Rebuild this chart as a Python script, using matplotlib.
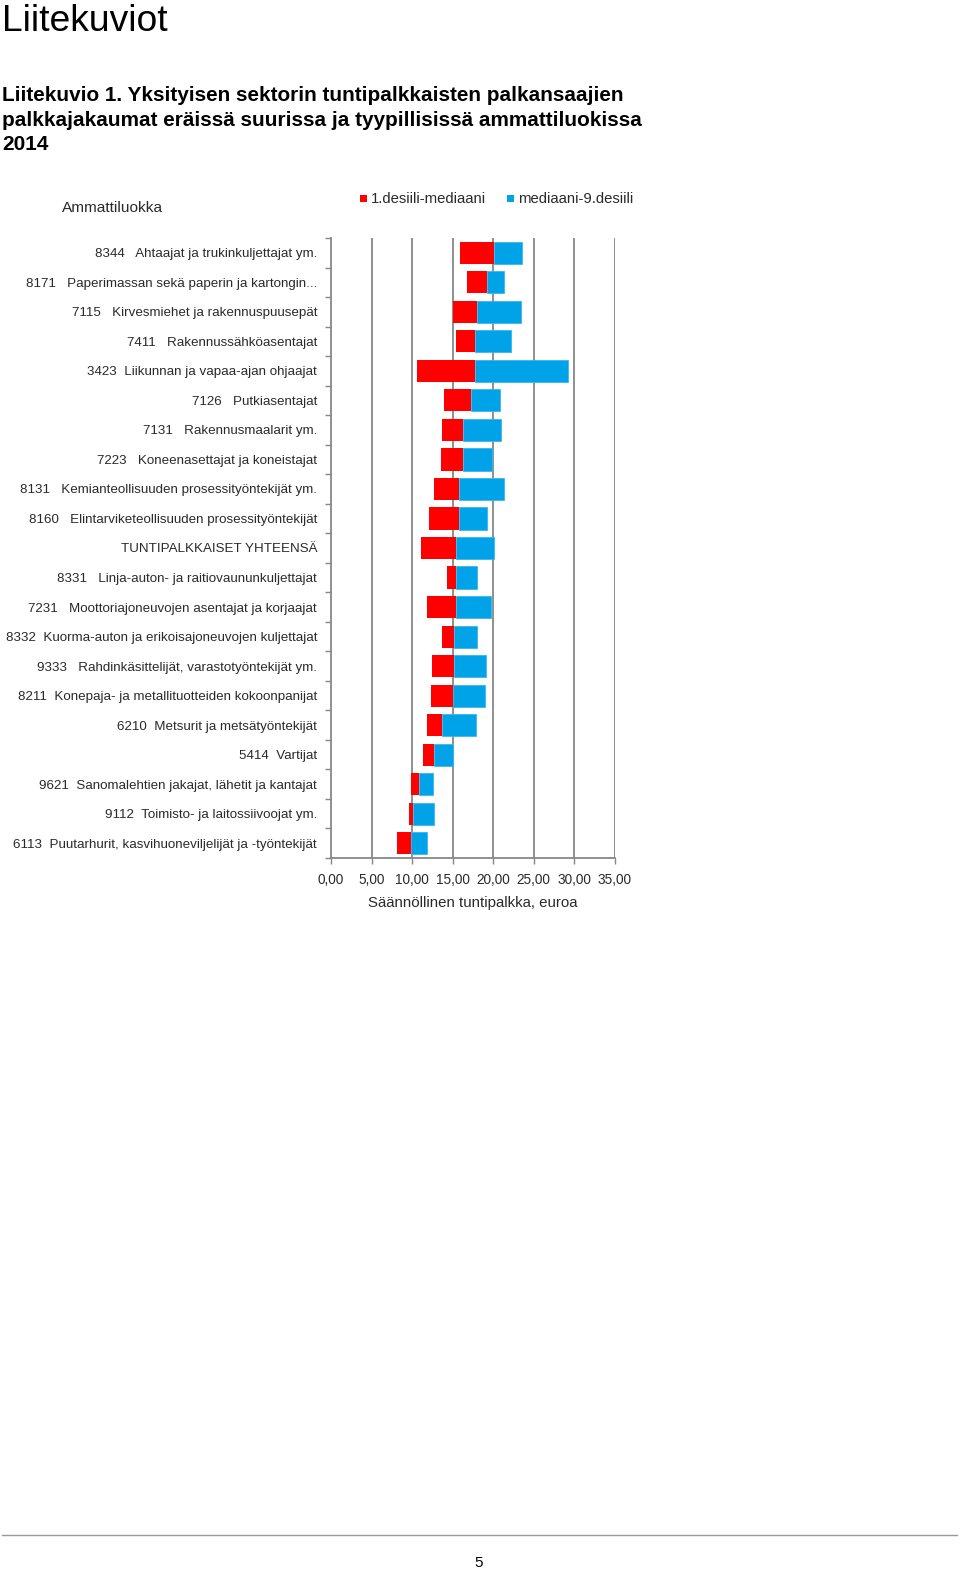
import matplotlib
matplotlib.use("Agg")
import matplotlib.pyplot as plt
from matplotlib.ticker import FuncFormatter, FixedLocator
from matplotlib.lines import Line2D
from matplotlib.patches import Rectangle

plt.rcParams['font.family'] = ['Liberation Sans', 'DejaVu Sans']

categories = [
    "8344   Ahtaajat ja trukinkuljettajat ym.",
    "8171   Paperimassan sekä paperin ja kartongin...",
    "7115   Kirvesmiehet ja rakennuspuusepät",
    "7411   Rakennussähköasentajat",
    "3423  Liikunnan ja vapaa-ajan ohjaajat",
    "7126   Putkiasentajat",
    "7131   Rakennusmaalarit ym.",
    "7223   Koneenasettajat ja koneistajat",
    "8131   Kemianteollisuuden prosessityöntekijät ym.",
    "8160   Elintarviketeollisuuden prosessityöntekijät",
    "TUNTIPALKKAISET YHTEENSÄ",
    "8331   Linja-auton- ja raitiovaununkuljettajat",
    "7231   Moottoriajoneuvojen asentajat ja korjaajat",
    "8332  Kuorma-auton ja erikoisajoneuvojen kuljettajat",
    "9333   Rahdinkäsittelijät, varastotyöntekijät ym.",
    "8211  Konepaja- ja metallituotteiden kokoonpanijat",
    "6210  Metsurit ja metsätyöntekijät",
    "5414  Vartijat",
    "9621  Sanomalehtien jakajat, lähetit ja kantajat",
    "9112  Toimisto- ja laitossiivoojat ym.",
    "6113  Puutarhurit, kasvihuoneviljelijät ja -työntekijät",
]
decile1 = [15.9, 16.8, 15.1, 15.45, 10.6, 14.0, 13.7, 13.55, 12.7, 12.15, 11.1,
           14.35, 11.85, 13.7, 12.5, 12.35, 11.85, 11.4, 9.9, 9.65, 8.15]
median = [20.15, 19.25, 18.05, 17.75, 17.75, 17.3, 16.25, 16.25, 15.85, 15.75, 15.4,
          15.45, 15.45, 15.2, 15.2, 15.1, 13.7, 12.75, 10.9, 10.1, 9.85]
decile9 = [23.6, 21.3, 23.45, 22.2, 29.2, 20.8, 21.0, 19.85, 21.3, 19.2, 20.15,
           18.0, 19.7, 18.0, 19.1, 18.95, 17.85, 15.1, 12.6, 12.75, 11.8]
xticks = [0, 5, 10, 15, 20, 25, 30, 35]
series_names = ["1.desiili-mediaani", "mediaani-9.desiili"]

RED = "#FF0000"
BLUE = "#00A2E8"
GRID = "#878787"
TXT = "#2A2A2A"

fig = plt.figure(figsize=(9.6, 15.72), dpi=100)
W, H = 960, 1572

def fx(px):
    return px / W

def fy(py):
    return 1 - py / H

# Page texts
fig.text(fx(2), fy(31), "Liitekuviot", fontsize=26.8, color="black", ha="left", va="baseline")
heading = ["Liitekuvio 1. Yksityisen sektorin tuntipalkkaisten palkansaajien",
           "palkkajakaumat eräissä suurissa ja tyypillisissä ammattiluokissa",
           "2014"]
for i, line in enumerate(heading):
    fig.text(fx(2), fy(101 + 24.6 * i), line, fontsize=14.95, fontweight="bold",
             color="black", ha="left", va="baseline")

# Axes
left, right, top, bottom = 331, 614.7, 238, 858
ax = fig.add_axes([fx(left), fy(bottom), fx(right - left), (bottom - top) / H])

n = len(categories)
ys = list(range(n))
widths_r = [m - d for m, d in zip(median, decile1)]
widths_b = [d - m for m, d in zip(median, decile9)]
ax.barh(ys, widths_r, left=decile1, height=0.75, color=RED, zorder=3,
        label=series_names[0])
ax.barh(ys, widths_b, left=median, height=0.75, color=BLUE, zorder=3,
        edgecolor="#3DB5EC", linewidth=0.6, label=series_names[1])

ax.set_xlim(0, 35)
ax.set_ylim(n - 0.5, -0.5)
ax.set_xticks(xticks)
ax.xaxis.set_major_formatter(FuncFormatter(lambda v, p: f"{v:.2f}".replace(".", ",")))
ax.set_yticks(ys)
ax.set_yticklabels(categories)
ax.tick_params(axis="y", which="major", length=0, pad=10, labelsize=9.6, labelcolor=TXT)
ax.yaxis.set_minor_locator(FixedLocator([i - 0.5 for i in range(n + 1)]))
ax.tick_params(axis="y", which="minor", length=4, width=1, color=GRID, direction="out")
ax.tick_params(axis="x", which="major", length=4, width=1, color=GRID, labelsize=9.8,
               labelcolor=TXT, pad=7)
for x in xticks[1:]:
    ax.axvline(x, color=GRID, lw=1.3, zorder=1)
for s in ["top", "right"]:
    ax.spines[s].set_visible(False)
for s in ["left", "bottom"]:
    ax.spines[s].set_color(GRID)
    ax.spines[s].set_linewidth(1.3)
ax.set_xlabel("Säännöllinen tuntipalkka, euroa", fontsize=10.8, color=TXT, labelpad=6)

# Header texts of chart
fig.text(fx(62), fy(212), "Ammattiluokka", fontsize=11.1, color=TXT, ha="left", va="baseline")
# Legend drawn manually
sq = 7
for i, (name, col, xpx) in enumerate([(series_names[0], RED, 360), (series_names[1], BLUE, 507)]):
    fig.patches.append(Rectangle((fx(xpx), fy(202)), sq / W, sq / H, transform=fig.transFigure,
                                 facecolor=col, edgecolor="none"))
    fig.text(fx(xpx + 11), fy(203), name, fontsize=10.7, color=TXT, ha="left", va="baseline")

# Footer
fig.lines.append(Line2D([fx(2), fx(957)], [fy(1535), fy(1535)], transform=fig.transFigure,
                        color="#9A9A9A", lw=1))
fig.text(fx(479), fy(1567), "5", fontsize=11, color="black", ha="center", va="baseline")

fig.savefig("out.png", dpi=100)
